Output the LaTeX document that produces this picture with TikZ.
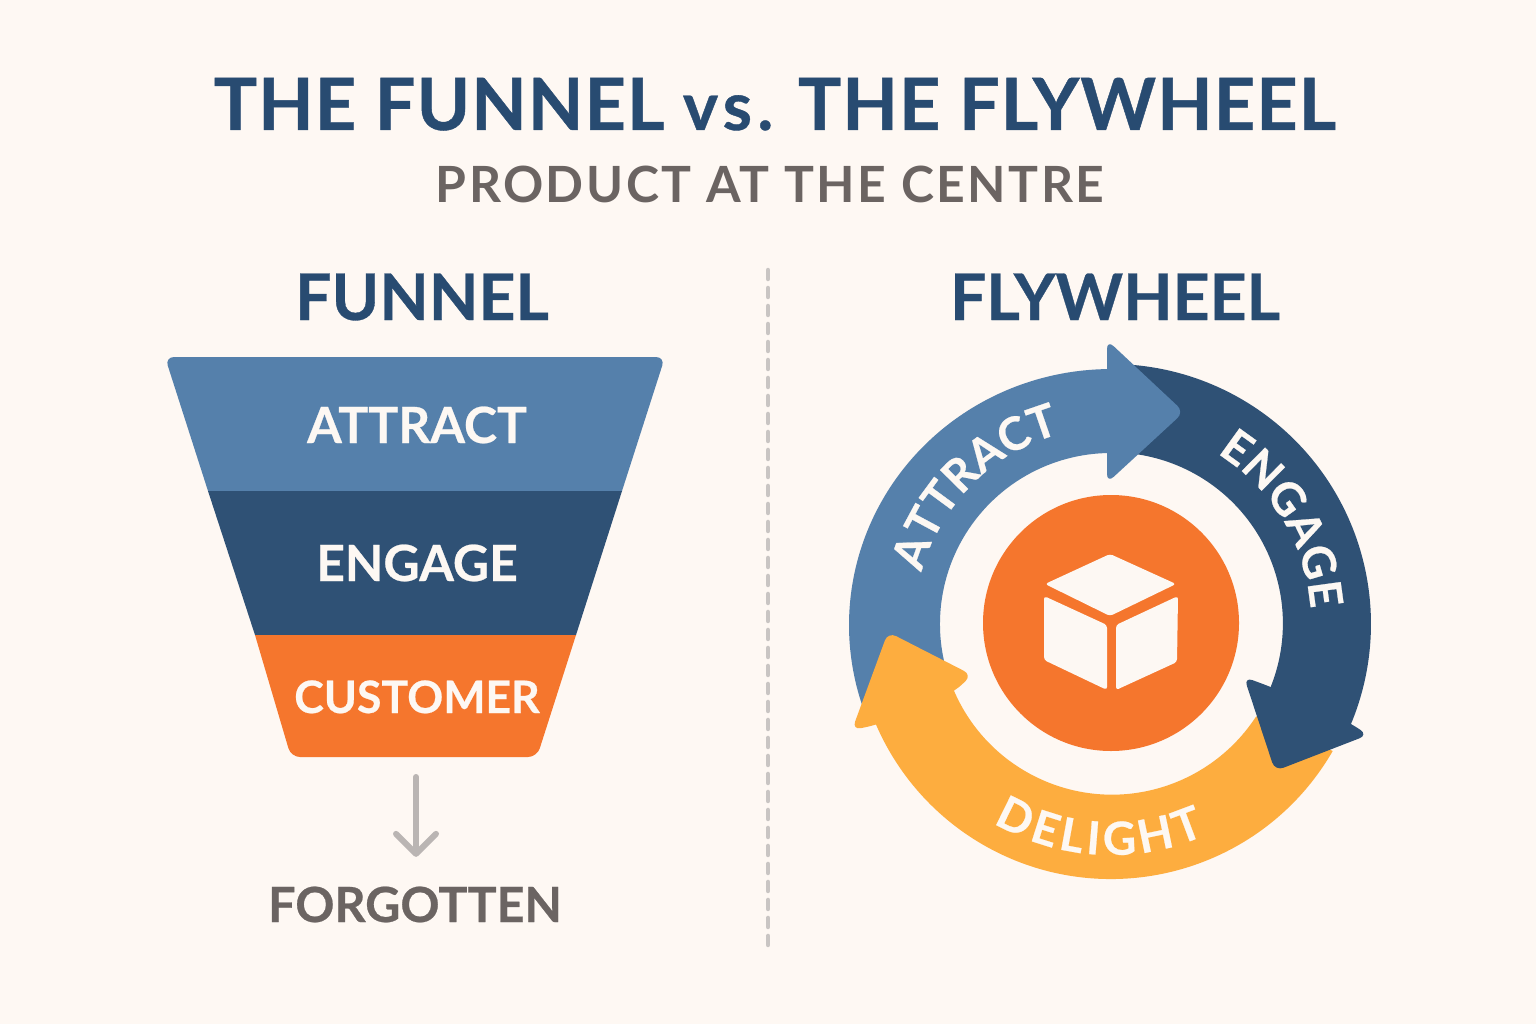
\documentclass[tikz,border=0pt]{standalone}
\usepackage{fontspec}
\usetikzlibrary{arrows.meta,decorations.text}
\setmainfont{Lato}
\newfontfamily\plainfont[BoldFeatures={FakeBold=0.5}]{Lato}
\newfontfamily\titlefont[LetterSpace=1.5,BoldFeatures={FakeBold=0.6}]{Lato}
\newfontfamily\subfont[LetterSpace=5]{Lato}
\newcommand{\curvefont}{\plainfont\fontsize{13}{16}\bfseries\selectfont}

\definecolor{bgcream}{HTML}{FEF8F3}
\definecolor{labelwhite}{HTML}{FDF8F3}
\definecolor{navyink}{HTML}{284B71}
\definecolor{greyink}{HTML}{6B6462}
\definecolor{attractblue}{HTML}{5580AB}
\definecolor{engagenavy}{HTML}{2F5175}
\definecolor{customerorange}{HTML}{F5762D}
\definecolor{delightyellow}{HTML}{FDAD3F}
\definecolor{dividergrey}{HTML}{C9C5C3}
\definecolor{arrowgrey}{HTML}{BAB5B3}

\tikzset{
	bandlabel/.style={anchor=base, inner sep=0pt, text=labelwhite, font=\plainfont\fontsize{14.2}{17}\bfseries\selectfont},
	headlabel/.style={anchor=base, inner sep=0pt, text=navyink, font=\plainfont\fontsize{18.3}{22}\bfseries\selectfont},
	curvelabel/.style={decorate, decoration={text along path, text={|\curvefont\color{labelwhite}|#1}, text align={fit to path}}},
	softcorner/.style={rounded corners=0.09cm}
}

\begin{document}
\begin{tikzpicture}
	\useasboundingbox (0,0) rectangle (15.36,10.24);
	\fill[bgcream] (0,0) rectangle (15.36,10.24);

	% Titles
	\node[anchor=base, inner sep=0pt, text=navyink, font=\titlefont\fontsize{20.5}{24}\bfseries\selectfont] (maintitle) at (7.75,8.94) {THE FUNNEL {\addfontfeature{LetterSpace=8}\fontsize{19}{22}\selectfont vs.} THE FLYWHEEL};
	\node[anchor=base, inner sep=0pt, text=greyink, font=\subfont\fontsize{14.2}{18}\bfseries\selectfont] (subtitle) at (7.70,8.21) {PRODUCT AT THE CENTRE};
	\node[headlabel] (funneltitle) at (4.22,7.04) {FUNNEL};
	\node[headlabel] (wheeltitle) at (11.15,7.04) {FLYWHEEL};

	% Divider
	\draw[dividergrey, line width=0.045cm, line cap=round, dash pattern=on 0.09cm off 0.09cm] (7.68,7.54) -- (7.68,0.78);

	% Funnel
	\fill[attractblue] (2.08,5.33) [softcorner] -- (1.65,6.67) -- (6.65,6.67) [sharp corners] -- (6.22,5.33) -- cycle;
	\fill[engagenavy] (2.08,5.33) -- (6.22,5.33) -- (5.76,3.89) -- (2.55,3.89) -- cycle;
	\fill[customerorange] (2.55,3.89) -- (5.76,3.89) [softcorner] -- (5.37,2.67) -- (2.91,2.67) [sharp corners] -- cycle;
	\node[bandlabel] (funnelattract) at (4.17,5.81) {ATTRACT};
	\node[bandlabel] (funnelengage) at (4.17,4.43) {ENGAGE};
	\node[bandlabel, font=\plainfont\fontsize{12.7}{15}\bfseries\selectfont] (funnelcustomer) at (4.17,3.11) {CUSTOMER};

	% Way out of the funnel
	\coordinate (funnelexit) at (4.16,2.47);
	\node[anchor=base, inner sep=0pt, text=greyink, font=\plainfont\fontsize{13.8}{16}\bfseries\selectfont] (forgotten) at (4.15,1.02) {FORGOTTEN};
	\draw[arrowgrey, line width=0.06cm, line cap=round, -{Straight Barb[round, length=0.2cm, width=0.40cm, line width=0.06cm]}, shorten >=0.29cm] (funnelexit) -- (forgotten.north -| funnelexit);

	% Flywheel
	\begin{scope}[shift={(11.11,4.01)}]
		% Attract band
		\fill[attractblue] (200:2.62) arc[start angle=200, end angle=88, x radius=2.62, y radius=2.56] -- (88:1.70) arc[start angle=88, end angle=195, radius=1.71] -- cycle;
		% Delight
		\fill[delightyellow] (-30:2.56) arc[start angle=-30, end angle=-159, radius=2.56] -- (-159:1.71) arc[start angle=-159, end angle=-33, radius=1.72] -- cycle;
		\fill[delightyellow, softcorner] (-2.59,-1.07) -- (-2.23,-0.09) -- (-1.39,-0.52) -- (-1.56,-0.68) -- (-2.35,-1.02) -- cycle;
		% Engage
		\fill[engagenavy] (88:2.59) arc[start angle=88, end angle=-26, radius=2.60] -- (-26:1.72) arc[start angle=-26, end angle=88, radius=1.71] -- cycle;
		\fill[engagenavy, softcorner] (1.33,-0.54) -- (1.60,-0.64) -- (2.39,-1.00) -- (2.57,-1.12) -- (1.64,-1.48) -- cycle;
		% Attract head
		\fill[attractblue, softcorner] (-0.04,2.83) -- (0.73,2.11) -- (-0.04,1.40) -- cycle;

		\path[curvelabel=ATTRACT] (165:1.96) arc[start angle=165, end angle=106, radius=1.96];
		\path[curvelabel=ENGAGE] (58:2.00) arc[start angle=58, end angle=4, radius=2.00];
		\path[curvelabel=DELIGHT] (239.5:2.32) arc[start angle=239.5, end angle=294, radius=2.32];

		% Product in the centre
		\fill[customerorange] (0,0) circle [radius=1.28];
		\fill[labelwhite, rounded corners=0.03cm] (-0.01,0.69) -- (0.65,0.39) -- (-0.01,0.07) -- (-0.66,0.39) -- cycle;
		\fill[labelwhite, rounded corners=0.03cm] (-0.67,0.27) -- (-0.04,-0.02) -- (-0.04,-0.67) -- (-0.67,-0.37) -- cycle;
		\fill[labelwhite, rounded corners=0.03cm] (0.05,-0.02) -- (0.67,0.27) -- (0.66,-0.39) -- (0.05,-0.67) -- cycle;
	\end{scope}
\end{tikzpicture}
\end{document}
